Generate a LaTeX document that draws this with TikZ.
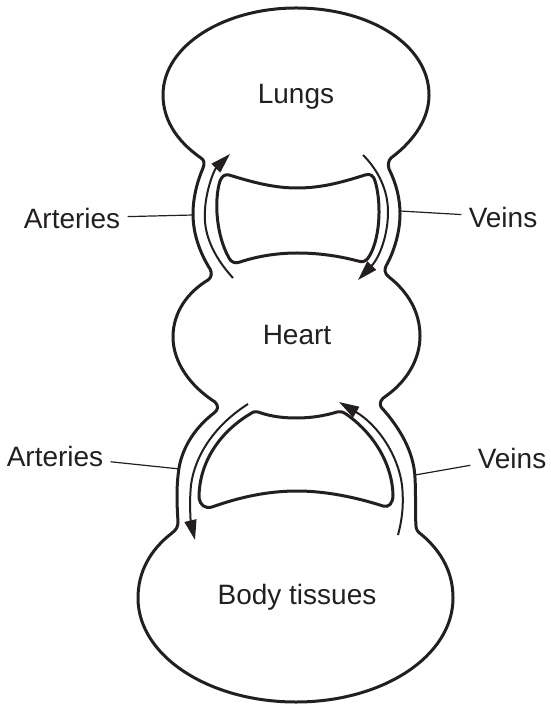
\documentclass[tikz,border=0pt]{standalone}
\usepackage{fontspec}
\setmainfont{Liberation Sans}
\usetikzlibrary{arrows.meta}
\definecolor{ink}{RGB}{35,31,32}

\begin{document}
\begin{tikzpicture}[x=0.5pt,y=-0.5pt,
        organ/.style={draw=ink,line width=1.5pt,line join=round},
        vessel/.style={draw=ink,line width=1pt},
        flow/.style={vessel,-{Triangle[length=10pt,width=6pt]},ink},
        tag/.style={text=ink,font=\fontsize{14}{17}\selectfont,inner sep=3.5pt},
        pointer/.style={draw=ink,line width=0.6pt}]

    \useasboundingbox (0,0) rectangle (550,704);

    % Outline
    \draw[organ] (201,158)
        .. controls (175,140) and (163,118) .. (163,95)
        .. controls (163,45) and (225,8) .. (296,8)
        .. controls (370,8) and (429,45) .. (429,95)
        .. controls (429,118) and (415,140) .. (391,158)
        .. controls (388,161) and (388,165) .. (389,169)
        .. controls (396,183) and (400,198) .. (400,214)
        .. controls (400,232) and (394,252) .. (386,266)
        .. controls (384,270) and (385,274) .. (389,277)
        .. controls (408,292) and (420,312) .. (420,336)
        .. controls (420,360) and (406,382) .. (386,396)
        .. controls (381,399) and (379,403) .. (381,407)
        .. controls (400,428) and (414,452) .. (415,478)
        .. controls (416,495) and (415,512) .. (416,526)
        .. controls (416,530) and (418,532) .. (422,535)
        .. controls (442,552) and (453,573) .. (453,598)
        .. controls (453,656) and (383,702) .. (296,702)
        .. controls (209,702) and (138,656) .. (138,598)
        .. controls (138,572) and (150,550) .. (172,533)
        .. controls (176,530) and (178,527) .. (178,522)
        .. controls (177,505) and (176,488) .. (179,468)
        .. controls (183,445) and (197,426) .. (214,413)
        .. controls (218,410) and (219,406) .. (215,402)
        .. controls (190,386) and (173,362) .. (173,337)
        .. controls (173,312) and (188,292) .. (208,280)
        .. controls (212,277) and (212,273) .. (210,269)
        .. controls (200,253) and (193,234) .. (193,214)
        .. controls (193,198) and (197,182) .. (203,168)
        .. controls (205,163) and (204,160) .. (201,158) -- cycle;

    % Upper gap
    \draw[organ] (229,175)
        .. controls (255,183) and (275,188) .. (297,188)
        .. controls (320,188) and (340,183) .. (365,175)
        .. controls (370,173) and (374,176) .. (375,181)
        .. controls (381,200) and (381,235) .. (370,255)
        .. controls (367,261) and (363,263) .. (358,261)
        .. controls (335,255) and (315,253) .. (297,253)
        .. controls (278,253) and (258,256) .. (240,262)
        .. controls (235,264) and (231,262) .. (229,258)
        .. controls (216,235) and (214,200) .. (220,181)
        .. controls (222,176) and (225,174) .. (229,175) -- cycle;

    % Lower gap
    \draw[organ] (258,412)
        .. controls (272,417) and (285,418) .. (297,418)
        .. controls (310,418) and (324,416) .. (337,412)
        .. controls (340,411) and (343,412) .. (346,414)
        .. controls (372,432) and (392,462) .. (393,495)
        .. controls (393,503) and (389,508) .. (383,506)
        .. controls (355,497) and (325,491) .. (297,491)
        .. controls (268,491) and (240,497) .. (212,507)
        .. controls (205,509) and (200,505) .. (199,498)
        .. controls (199,462) and (220,432) .. (250,414)
        .. controls (253,412) and (255,411) .. (258,412) -- cycle;

    % Blood flow
    \draw[flow] (233,278) .. controls (212,255) and (203,232) .. (205,210)
        .. controls (206,190) and (214,170) .. (230,154);
    \draw[flow] (363,155) .. controls (379,171) and (388,191) .. (388,212)
        .. controls (388,234) and (380,257) .. (358,280);
    \draw[flow] (248,404) .. controls (215,425) and (195,455) .. (191,485)
        .. controls (189,505) and (191,523) .. (195,540);
    \draw[flow] (398,535) .. controls (402,520) and (404,505) .. (402,485)
        .. controls (398,455) and (378,425) .. (339,402);

    % Organs
    \node[tag] (lungs) at (296,97) {Lungs};
    \node[tag] (heart) at (297,335) {Heart};
    \node[tag] (body) at (297,597) {Body tissues};

    % Labels
    \node[tag] (art1) at (72,218) {Arteries};
    \node[tag] (vein1) at (503,217) {Veins};
    \node[tag] (art2) at (55,456) {Arteries};
    \node[tag] (vein2) at (512,458) {Veins};

    \coordinate (art1w) at (193,215);
    \coordinate (vein1w) at (400,211);
    \coordinate (art2w) at (180,469);
    \coordinate (vein2w) at (415,475);

    \draw[pointer] (art1) -- (art1w);
    \draw[pointer] (vein1) -- (vein1w);
    \draw[pointer] (art2) -- (art2w);
    \draw[pointer] (vein2) -- (vein2w);
\end{tikzpicture}
\end{document}
